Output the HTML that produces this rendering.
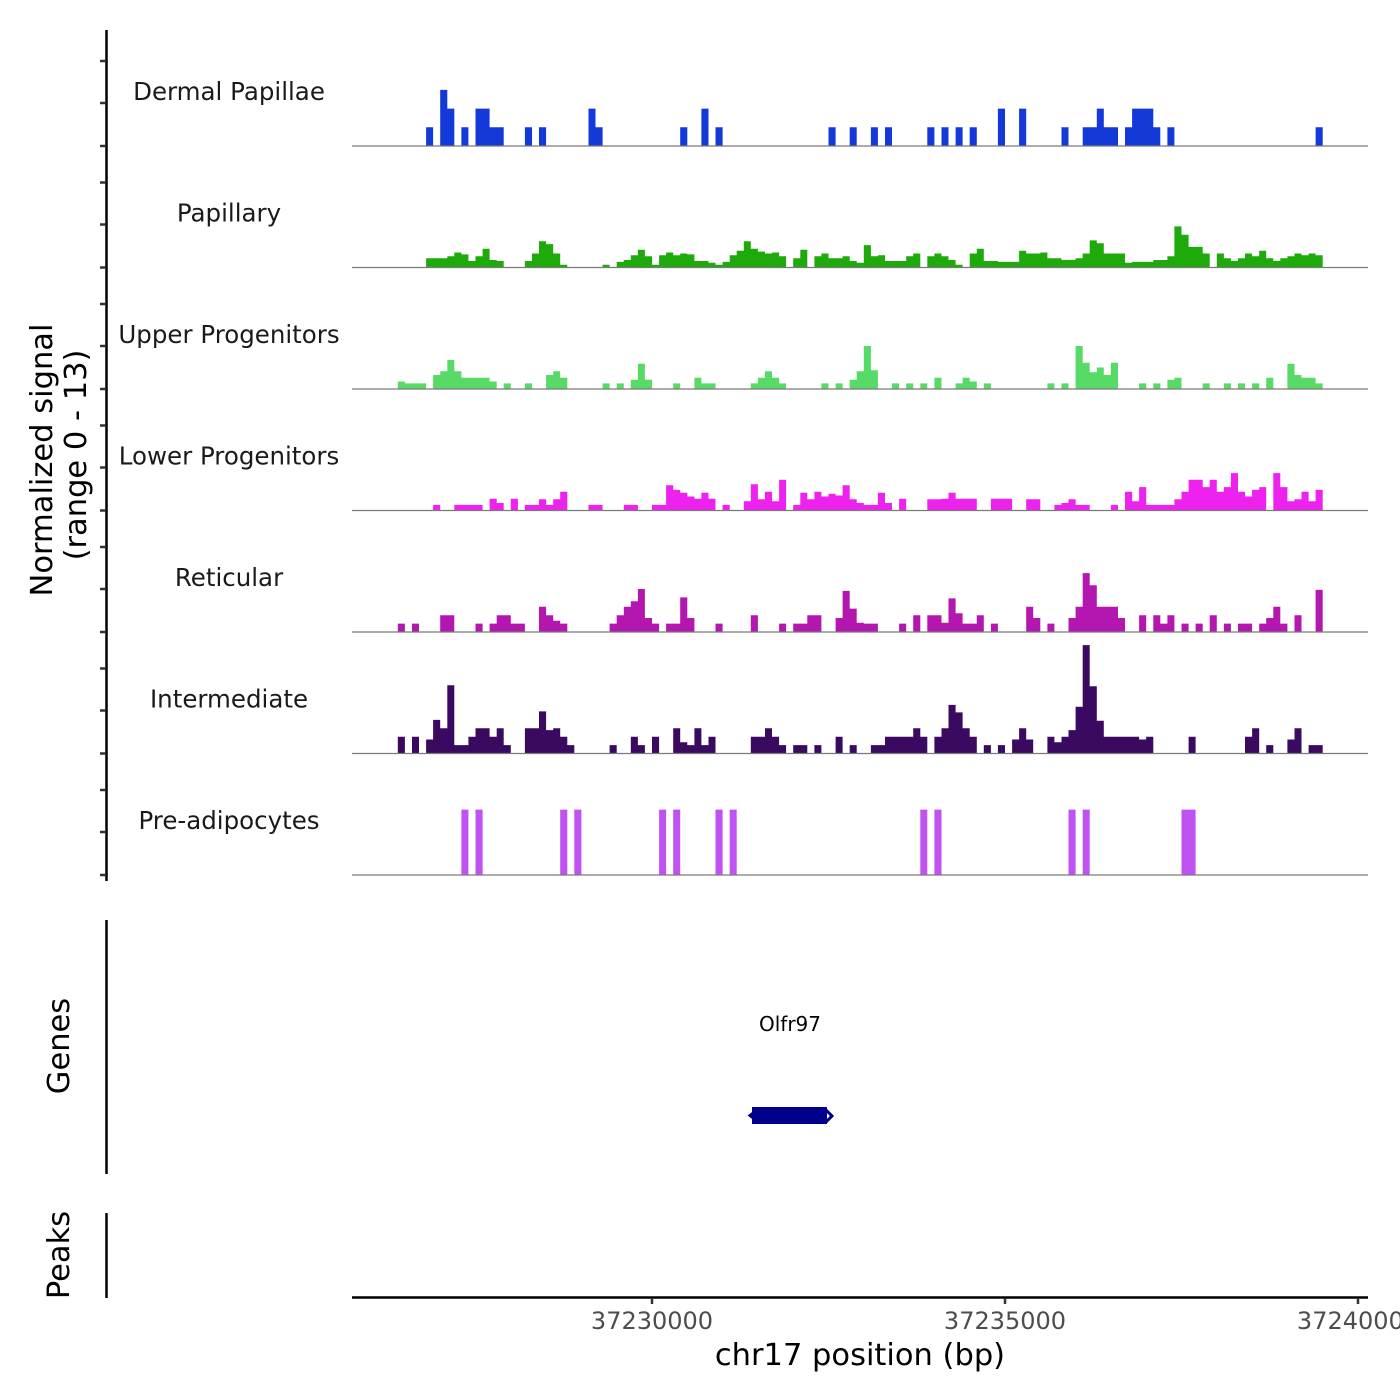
<!DOCTYPE html>
<html><head><meta charset="utf-8"><style>
html,body{margin:0;padding:0;background:#fff;}
svg{display:block;font-family:"DejaVu Sans","Liberation Sans",sans-serif;}
</style></head><body>
<svg id="chart" width="1400" height="1400" viewBox="0 0 1400 1400" xmlns="http://www.w3.org/2000/svg">
<rect width="1400" height="1400" fill="#fff"/>
<g id="tracks"></g>
<line x1="106.5" y1="30" x2="106.5" y2="881" stroke="#000" stroke-width="2.5"/>
<g id="yticks"></g>
<text transform="translate(52,460) rotate(-90)" text-anchor="middle" font-size="30.5" fill="#000">Normalized signal</text>
<text transform="translate(86,455) rotate(-90)" text-anchor="middle" font-size="30.5" fill="#000">(range 0 - 13)</text>
<line x1="106.5" y1="920" x2="106.5" y2="1174" stroke="#000" stroke-width="2.5"/>
<text transform="translate(69,1046) rotate(-90)" text-anchor="middle" font-size="30.5" fill="#000">Genes</text>
<text x="790" y="1031" text-anchor="middle" font-size="20" fill="#000">Olfr97</text>
<g>
<rect x="752" y="1107" width="75" height="17" fill="#00008B"/>
<path d="M757,1110 L750,1115.5 L757,1121" fill="none" stroke="#00008B" stroke-width="3"/>
<path d="M826,1110 L832,1116 L826,1122" fill="none" stroke="#00008B" stroke-width="3"/>
</g>
<line x1="106.5" y1="1213" x2="106.5" y2="1298" stroke="#000" stroke-width="2.5"/>
<text transform="translate(69,1255) rotate(-90)" text-anchor="middle" font-size="30.5" fill="#000">Peaks</text>
<line x1="352" y1="1297.5" x2="1368" y2="1297.5" stroke="#000" stroke-width="2.5"/>
<g id="xticks"></g>
<text x="860" y="1365" text-anchor="middle" font-size="30.5" fill="#000">chr17 position (bp)</text>
</svg>
<script>
const binStart = 37226400;
const binSize = 100;
const trackNames = ["Dermal Papillae","Papillary","Upper Progenitors","Lower Progenitors","Reticular","Intermediate","Pre-adipocytes"];
const trackColors = ["#1339D8","#1FAA0B","#57DB66","#EE22EE","#B417B0","#3A0A60","#C152F2"];
const xTickValues = [37230000,37235000,37240000];
const xTickLabels = ["37230000","37235000","37240000"];
const dermalPapillae = [0,0,0,0,2,0,6,4,0,2, 0,4,4,2,2,0,0,0,2,0, 2,0,0,0,0,0,0,4,2,0, 0,0,0,0,0,0,0,0,0,0, 2,0,0,4,0,2,0,0,0,0, 0,0,0,0,0,0,0,0,0,0, 0,2,0,0,2,0,0,2,0,2, 0,0,0,0,0,2,0,2,0,2, 0,2,0,0,0,4,0,0,4,0, 0,0,0,0,2,0,0,2,2,4, 2,2,0,2,4,4,4,2,0,2, 0,0,0,0,0,0,0,0,0,0, 0,0,0,0,0,0,0,0,0,0,2];
const papillary = [0,0,0,0,1,1,1,1.2,1.6,1.4, 0.7,1.2,2,0.8,0.7,0,0,0,0.7,1.5, 2.8,2.5,1.5,0.3,0,0,0,0,0,0.3, 0,0.6,0.8,1.3,1.9,1.2,0.3,1.3,1.6,1.3, 1.5,1.4,0.7,0.7,0.5,0.3,0.6,1.3,1.8,2.8, 2,1.7,1.5,1.6,1.2,0,1,1.9,0,1.2, 1.5,1,1,1.2,0.7,0.5,2.4,1.2,1.3,0.7, 0.7,0.7,1.2,1.5,0,1.2,1.5,1.2,0.8,0.3, 0,1.5,2,0.7,0.7,0.6,0.6,0.6,1.8,1.5, 1.5,1.6,1,1,0.8,0.8,1,1.5,2.9,2.6, 1.5,1.5,1.5,0.5,0.6,0.6,0.6,0.8,0.8,1.2, 4.4,3.5,2.2,2.2,1.5,0,1.5,1,0.7,1, 1.5,1.2,1.8,1,0.7,1,1.2,1.5,1.3,1.5,1.3];
const upperProgenitors = [0.8,0.6,0.6,0.6,0,1.5,1.9,3.1,1.9,1.2, 1.2,1.2,1.2,0.8,0,0.6,0,0,0.6,0, 0,1.5,1.9,1.2,0,0,0,0,0,0.6, 0,0.6,0,1,2.7,1,0,0,0,0.6, 0,0,1.2,0.6,0.6,0,0,0,0,0, 0.6,1.2,1.9,1.2,0.6,0,0,0,0,0, 0.6,0,0.6,0,1,1.9,4.6,2,0,0, 0.6,0,0.6,0,0.6,0,1.2,0,0,0.6, 1.2,0.8,0,0.6,0,0,0,0,0,0, 0,0,0.6,0,0.6,0,4.6,2.8,1.8,2.3, 1.5,2.8,0,0,0,0.6,0,0.6,0,1, 1.2,0,0,0,0.6,0,0,0.6,0,0.6, 0,0.6,0,1.2,0,0,2.7,1.5,1.2,1.2,0.6];
const lowerProgenitors = [0,0,0,0,0,0.6,0,0,0.6,0.6, 0.6,0.6,0,1.25,0.8,0,1.25,0,0.6,0.6, 1.2,0.6,1.2,2,0,0,0,0.6,0.6,0, 0,0,0.6,0.6,0,0,0.6,0.6,2.7,2.2, 1.9,1.5,1.25,1.9,1.25,0,0.6,0,0,1, 2.8,1.2,2,1,3.3,0,0.6,1.9,1.2,2, 1.5,1.8,1.6,2.7,1.2,0.8,0.6,0.6,1.9,0.8, 0,1.25,0,0,0,1.2,1.2,1.25,1.9,1.25, 1.25,1.25,0,0,1.25,1.25,1.25,0,0,1.2, 1.2,0,0,0.6,0.8,1.2,0.6,0.6,0,0, 0,0.6,0,2,1,2.5,0.6,0.6,0.6,0.6, 1.2,2,3.3,3.3,2.5,3.3,2,2.5,4,2, 1.5,2.2,2.5,0,4,2.5,1,1.2,2,1,2.2];
const reticular = [0.9,0,0.9,0,0,0,1.8,1.8,0,0, 0,0.9,0,0.9,1.8,1.8,0.9,0.9,0,0, 2.7,1.8,1.2,0.9,0,0,0,0,0,0, 0.9,1.8,2.7,3.3,4.6,1.5,0.9,0,0.9,0.9, 3.7,1.5,0,0,0,0.9,0,0,0,0, 1.8,0,0,0,0.9,0,0.9,0.9,1.8,1.8, 0,0,1.5,4.4,2.5,1,0.9,0.9,0,0, 0,0.9,0,1.8,0,1.8,1.8,1,3.6,2, 0.9,0.9,1.8,0,0.9,0,0,0,0,2.7, 1.5,0,0.9,0,0,1.5,2.7,6.3,5,2.7, 2.7,2.7,1.5,0,0,1.8,0,1.8,0.9,1.8, 0,0.9,0,0.9,0,1.8,0,0.9,0,0.9, 0.9,0,0.9,1.5,2.7,0.9,0,1.8,0,0,4.5];
const intermediate = [1.8,0,1.8,0,1.5,3.6,2.7,7.3,0.9,0.9, 1.8,2.7,2.7,1.8,2.7,0.9,0,0,2.7,2.7, 4.5,2.5,2.7,1.8,0.9,0,0,0,0,0, 0.9,0,0,1.8,0.9,0,1.8,0,0,2.7, 1.2,0.9,2.7,0.9,1.8,0,0,0,0,0, 1.8,1.8,2.7,1.8,0.9,0,0.9,0.9,0,0.9, 0,0,1.8,0,0.9,0,0,0.9,0.9,1.8, 1.8,1.8,1.8,2.7,1.8,0,1.8,2.7,5.2,4.4, 2.7,1.8,0,0.9,0,0.9,0,1.5,2.7,1.5, 0,0,1.8,1.2,1.8,2.5,5,11.6,7.2,3.5, 1.8,1.8,1.8,1.8,1.8,1.5,1.8,0,0,0, 0,0,1.8,0,0,0,0,0,0,0, 1.8,2.7,0,0.9,0,0,1.5,2.7,0,0.9,0.9];
const preAdipocytes = [0,0,0,0,0,0,0,0,0,7, 0,7,0,0,0,0,0,0,0,0, 0,0,0,7,0,7,0,0,0,0, 0,0,0,0,0,0,0,7,0,7, 0,0,0,0,0,7,0,7,0,0, 0,0,0,0,0,0,0,0,0,0, 0,0,0,0,0,0,0,0,0,0, 0,0,0,0,7,0,7,0,0,0, 0,0,0,0,0,0,0,0,0,0, 0,0,0,0,0,7,0,7,0,0, 0,0,0,0,0,0,0,0,0,0, 0,7,7,0,0,0,0,0,0,0, 0,0,0,0,0,0,0,0,0,0,0];
const trackSeries = [dermalPapillae,papillary,upperProgenitors,lowerProgenitors,reticular,intermediate,preAdipocytes];

const NS = "http://www.w3.org/2000/svg";
const X0 = 352, X1 = 1368;
function xScale(bp){ return 652 + (bp - 37230000) * (353/5000); }
const firstBase = 146, trackStep = 121.5, pxPerUnit = 121.5/13;
function yScale(v, t){ return firstBase + t*trackStep - v*pxPerUnit; }

const tracksG = document.getElementById('tracks');
const ytG = document.getElementById('yticks');
trackSeries.forEach(function(vals, t){
  const base = yScale(0, t);
  const g = document.createElementNS(NS,'g');
  
  
  let d = '';
  let open = false;
  for (let i = 0; i < vals.length; i++) {
    const xa = xScale(binStart + i*binSize), xb = xScale(binStart + (i+1)*binSize);
    const v = vals[i];
    if (v > 0) {
      const y = yScale(v, t);
      if (!open) { d += 'M' + xa.toFixed(1) + ',' + base + ' '; open = true; }
      d += 'L' + xa.toFixed(1) + ',' + y.toFixed(1) + ' L' + xb.toFixed(1) + ',' + y.toFixed(1) + ' ';
    } else if (open) {
      d += 'L' + xa.toFixed(1) + ',' + base + ' Z '; open = false;
    }
  }
  if (open) { d += 'L' + xScale(binStart + vals.length*binSize).toFixed(1) + ',' + base + ' Z'; }
  const area = document.createElementNS(NS,'path');
  area.setAttribute('d', d);
  area.setAttribute('fill', trackColors[t]);
  
  
  g.appendChild(area);
  const bl = document.createElementNS(NS,'line');
  bl.setAttribute('x1', X0); bl.setAttribute('x2', X1);
  bl.setAttribute('y1', base); bl.setAttribute('y2', base);
  bl.setAttribute('stroke', '#7a7a7a'); bl.setAttribute('stroke-width', '1.2');
  
  
  g.appendChild(bl);
  const lab = document.createElementNS(NS,'text');
  lab.setAttribute('x', 229); lab.setAttribute('y', base - 46);
  lab.setAttribute('text-anchor', 'middle'); lab.setAttribute('font-size', '24.5');
  lab.setAttribute('fill', '#1a1a1a');
  lab.textContent = trackNames[t];
  
  
  g.appendChild(lab);
  tracksG.appendChild(g);
  [0, 43, 85].forEach(function(off){
    const tk = document.createElementNS(NS,'line');
    tk.setAttribute('x1', 100); tk.setAttribute('x2', 106);
    tk.setAttribute('y1', base - off); tk.setAttribute('y2', base - off);
    tk.setAttribute('stroke', '#333'); tk.setAttribute('stroke-width', '2.5');
    
    
    ytG.appendChild(tk);
  });
});

const xtG = document.getElementById('xticks');
xTickValues.forEach(function(v, i){
  const x = xScale(v);
  const tk = document.createElementNS(NS,'line');
  tk.setAttribute('x1', x); tk.setAttribute('x2', x);
  tk.setAttribute('y1', 1298); tk.setAttribute('y2', 1304);
  tk.setAttribute('stroke', '#333'); tk.setAttribute('stroke-width', '2.5');
  
  
  xtG.appendChild(tk);
  const lb = document.createElementNS(NS,'text');
  lb.setAttribute('x', x); lb.setAttribute('y', 1329);
  lb.setAttribute('text-anchor', 'middle'); lb.setAttribute('font-size', '24');
  lb.setAttribute('fill', '#4d4d4d');
  lb.textContent = xTickLabels[i];
  
  
  xtG.appendChild(lb);
});
</script>
</body></html>
